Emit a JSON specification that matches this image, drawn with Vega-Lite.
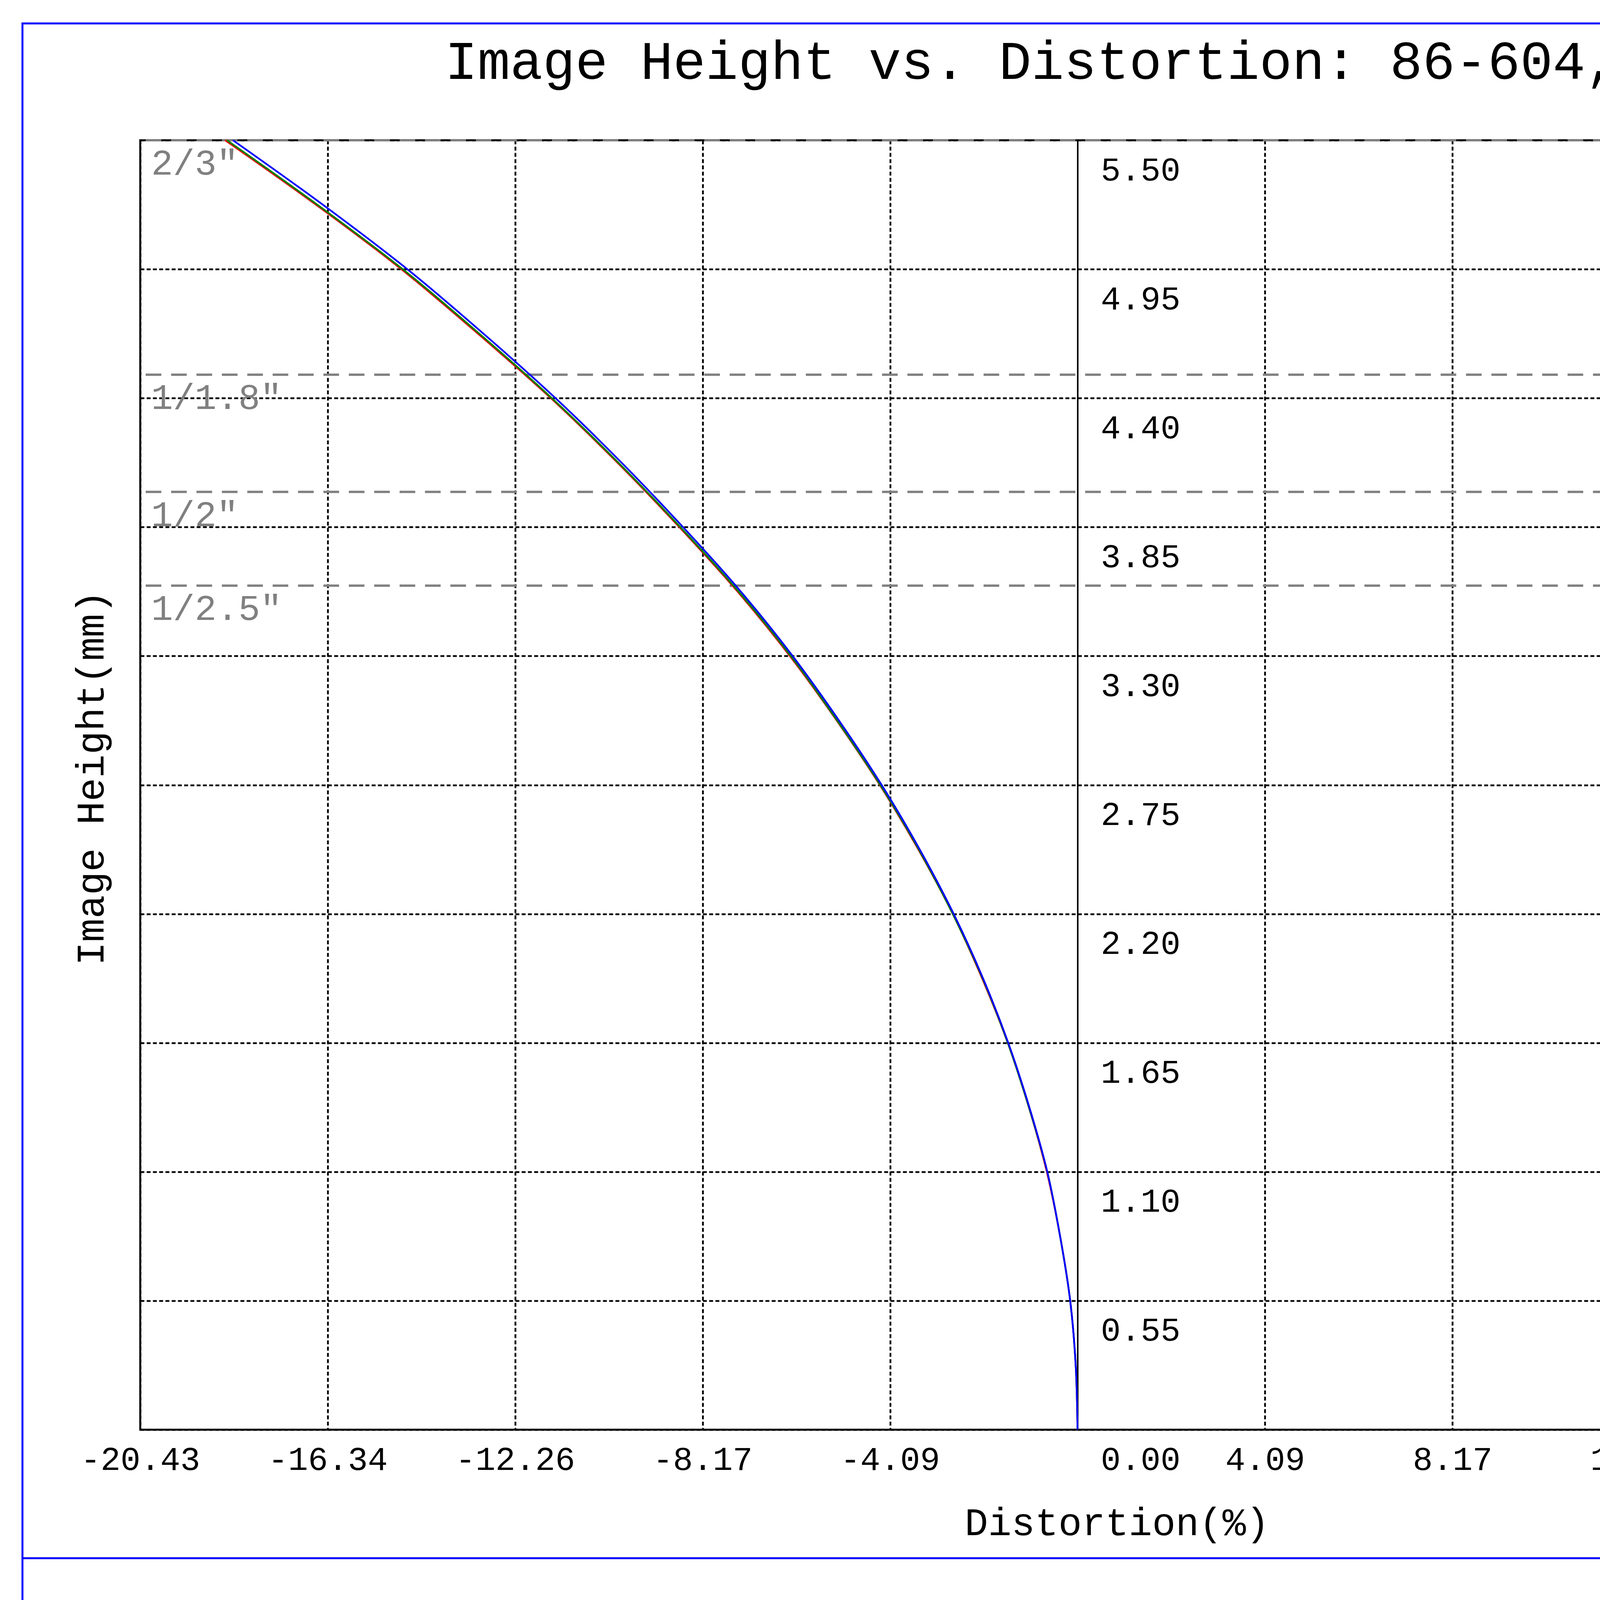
{
  "$schema": "https://vega.github.io/schema/vega-lite/v6.json",
  "width": 4799,
  "height": 3301,
  "autosize": {"type": "none"},
  "padding": {"left": 359, "top": 359, "right": 960, "bottom": 667},
  "background": "white",
  "title": {
    "text": "Image Height vs. Distortion: 86-604, 8.5",
    "font": "Liberation Mono",
    "fontSize": 139,
    "fontWeight": "normal",
    "color": "black",
    "anchor": "start",
    "frame": "group",
    "dx": 780,
    "offset": -283,
    "baseline": "alphabetic"
  },
  "datasets": {
    "curves": [
      {"wl": "656.27nm", "h": 0, "d": 0},
      {"wl": "656.27nm", "h": 0.275, "d": -0.04},
      {"wl": "656.27nm", "h": 0.55, "d": -0.16},
      {"wl": "656.27nm", "h": 0.825, "d": -0.38},
      {"wl": "656.27nm", "h": 1.1, "d": -0.67},
      {"wl": "656.27nm", "h": 1.375, "d": -1.06},
      {"wl": "656.27nm", "h": 1.65, "d": -1.52},
      {"wl": "656.27nm", "h": 1.925, "d": -2.08},
      {"wl": "656.27nm", "h": 2.2, "d": -2.72},
      {"wl": "656.27nm", "h": 2.475, "d": -3.47},
      {"wl": "656.27nm", "h": 2.75, "d": -4.31},
      {"wl": "656.27nm", "h": 3.025, "d": -5.25},
      {"wl": "656.27nm", "h": 3.3, "d": -6.27},
      {"wl": "656.27nm", "h": 3.575, "d": -7.41},
      {"wl": "656.27nm", "h": 3.85, "d": -8.68},
      {"wl": "656.27nm", "h": 4.125, "d": -10.03},
      {"wl": "656.27nm", "h": 4.4, "d": -11.48},
      {"wl": "656.27nm", "h": 4.675, "d": -13.07},
      {"wl": "656.27nm", "h": 4.95, "d": -14.74},
      {"wl": "656.27nm", "h": 5.225, "d": -16.6},
      {"wl": "656.27nm", "h": 5.5, "d": -18.58},
      {"wl": "587.56nm", "h": 0, "d": 0},
      {"wl": "587.56nm", "h": 0.275, "d": -0.04},
      {"wl": "587.56nm", "h": 0.55, "d": -0.16},
      {"wl": "587.56nm", "h": 0.825, "d": -0.38},
      {"wl": "587.56nm", "h": 1.1, "d": -0.66},
      {"wl": "587.56nm", "h": 1.375, "d": -1.06},
      {"wl": "587.56nm", "h": 1.65, "d": -1.52},
      {"wl": "587.56nm", "h": 1.925, "d": -2.07},
      {"wl": "587.56nm", "h": 2.2, "d": -2.72},
      {"wl": "587.56nm", "h": 2.475, "d": -3.46},
      {"wl": "587.56nm", "h": 2.75, "d": -4.3},
      {"wl": "587.56nm", "h": 3.025, "d": -5.24},
      {"wl": "587.56nm", "h": 3.3, "d": -6.25},
      {"wl": "587.56nm", "h": 3.575, "d": -7.39},
      {"wl": "587.56nm", "h": 3.85, "d": -8.66},
      {"wl": "587.56nm", "h": 4.125, "d": -10.01},
      {"wl": "587.56nm", "h": 4.4, "d": -11.46},
      {"wl": "587.56nm", "h": 4.675, "d": -13.04},
      {"wl": "587.56nm", "h": 4.95, "d": -14.71},
      {"wl": "587.56nm", "h": 5.225, "d": -16.57},
      {"wl": "587.56nm", "h": 5.5, "d": -18.54},
      {"wl": "486.13nm", "h": 0, "d": 0},
      {"wl": "486.13nm", "h": 0.275, "d": -0.04},
      {"wl": "486.13nm", "h": 0.55, "d": -0.16},
      {"wl": "486.13nm", "h": 0.825, "d": -0.38},
      {"wl": "486.13nm", "h": 1.1, "d": -0.66},
      {"wl": "486.13nm", "h": 1.375, "d": -1.05},
      {"wl": "486.13nm", "h": 1.65, "d": -1.51},
      {"wl": "486.13nm", "h": 1.925, "d": -2.06},
      {"wl": "486.13nm", "h": 2.2, "d": -2.7},
      {"wl": "486.13nm", "h": 2.475, "d": -3.44},
      {"wl": "486.13nm", "h": 2.75, "d": -4.27},
      {"wl": "486.13nm", "h": 3.025, "d": -5.2},
      {"wl": "486.13nm", "h": 3.3, "d": -6.21},
      {"wl": "486.13nm", "h": 3.575, "d": -7.34},
      {"wl": "486.13nm", "h": 3.85, "d": -8.6},
      {"wl": "486.13nm", "h": 4.125, "d": -9.94},
      {"wl": "486.13nm", "h": 4.4, "d": -11.38},
      {"wl": "486.13nm", "h": 4.675, "d": -12.95},
      {"wl": "486.13nm", "h": 4.95, "d": -14.61},
      {"wl": "486.13nm", "h": 5.225, "d": -16.45},
      {"wl": "486.13nm", "h": 5.5, "d": -18.41}
    ],
    "sensors": [
      {"sensor": "2/3\"", "h": 5.5},
      {"sensor": "1/1.8\"", "h": 4.5},
      {"sensor": "1/2\"", "h": 4.0},
      {"sensor": "1/2.5\"", "h": 3.6}
    ]
  },
  "layer": [
    {
      "data": {"values": [{}]},
      "mark": {"type": "rect", "filled": false, "stroke": "#0000ff", "strokeWidth": 5, "clip": false},
      "encoding": {
        "x": {"datum": -22.997, "type": "quantitative", "scale": {"domain": [-20.43, 20.43], "nice": false, "zero": false}},
        "x2": {"datum": 28.093},
        "y": {"datum": 5.998, "type": "quantitative", "scale": {"domain": [0, 5.5], "nice": false, "zero": false}},
        "y2": {"datum": -0.998}
      }
    },
    {
      "data": {"values": [{}]},
      "mark": {"type": "rule", "stroke": "#0000ff", "strokeWidth": 5, "clip": false},
      "encoding": {
        "x": {"datum": -22.997, "type": "quantitative"},
        "x2": {"datum": 28.093},
        "y": {"datum": -0.548, "type": "quantitative"}
      }
    },
    {
      "data": {"values": [{}]},
      "mark": {"type": "rule", "stroke": "black", "strokeWidth": 8, "clip": false},
      "encoding": {
        "x": {"datum": -24, "type": "quantitative"},
        "x2": {"datum": 32},
        "y": {"datum": -1.1055, "type": "quantitative"}
      }
    },
    {
      "data": {"values": [{"note": "Working Distance: Infinity"}]},
      "mark": {"type": "text", "align": "left", "baseline": "alphabetic", "font": "Liberation Mono", "fontSize": 95, "color": "black", "clip": false},
      "encoding": {
        "x": {"datum": -21.68, "type": "quantitative"},
        "y": {"datum": -0.88, "type": "quantitative"},
        "text": {"field": "note"}
      }
    },
    {
      "data": {"name": "sensors"},
      "mark": {"type": "rule", "stroke": "#808080", "strokeWidth": 6, "strokeDash": [40, 25]},
      "encoding": {
        "y": {"field": "h", "type": "quantitative"}
      }
    },
    {
      "data": {"name": "sensors"},
      "mark": {"type": "text", "align": "left", "baseline": "alphabetic", "dx": 28, "dy": 88, "font": "Liberation Mono", "fontSize": 93, "color": "#808080"},
      "encoding": {
        "x": {"datum": -20.43, "type": "quantitative"},
        "y": {"field": "h", "type": "quantitative"},
        "text": {"field": "sensor"}
      }
    },
    {
      "data": {"name": "curves"},
      "mark": {"type": "line", "strokeWidth": 4.5, "interpolate": "catmull-rom"},
      "encoding": {
        "x": {
          "field": "d",
          "type": "quantitative",
          "scale": {"domain": [-20.43, 20.43], "nice": false, "zero": false},
          "axis": {
            "title": "Distortion(%)",
            "values": [-20.43, -16.344, -12.258, -8.172, -4.086, 4.086, 8.172, 12.258, 16.344, 20.43],
            "format": ".2f",
            "labelExpr": "replace(datum.label, '\u2212', '-')",
            "domain": false,
            "ticks": false,
            "tickSize": 0,
            "labelBaseline": "alphabetic",
            "labelPadding": 102,
            "labelFlush": false,
            "labelOverlap": false,
            "titleX": 2500,
            "titleY": 269,
            "titleAlign": "center",
            "titleBaseline": "alphabetic"
          }
        },
        "y": {
          "field": "h",
          "type": "quantitative",
          "scale": {"domain": [0, 5.5], "nice": false, "zero": false},
          "axis": {
            "title": "Image Height(mm)",
            "values": [0, 0.55, 1.1, 1.65, 2.2, 2.75, 3.3, 3.85, 4.4, 4.95, 5.5],
            "format": ".2f",
            "offset": -2399.5,
            "domain": true,
            "domainColor": "black",
            "domainWidth": 4,
            "ticks": false,
            "tickSize": 0,
            "labelAlign": "left",
            "labelBaseline": "alphabetic",
            "labelPadding": -59,
            "labelOffset": 102,
            "labelFlush": false,
            "labelOverlap": false,
            "titleX": -2524,
            "titleY": 1632,
            "titleAngle": 270,
            "titleAlign": "center",
            "titleBaseline": "middle"
          }
        },
        "color": {
          "field": "wl",
          "type": "nominal",
          "scale": {"domain": ["656.27nm", "587.56nm", "486.13nm"], "range": ["#ff0000", "#008000", "#0000ff"]},
          "legend": {
            "title": "Wavelengths",
            "orient": "none",
            "legendX": 4938,
            "legendY": 837,
            "padding": 0,
            "symbolType": "stroke",
            "symbolSize": 8836,
            "symbolStrokeWidth": 5,
            "rowPadding": 86,
            "titlePadding": 76,
            "labelOffset": 36
          }
        },
        "order": {"field": "h", "type": "quantitative"}
      }
    }
  ],
  "config": {
    "view": {"stroke": "black", "strokeWidth": 5},
    "font": "Liberation Mono",
    "axis": {
      "labelFont": "Liberation Mono",
      "labelFontSize": 85,
      "labelColor": "black",
      "labelLimit": 1000,
      "titleFont": "Liberation Mono",
      "titleFontSize": 100,
      "titleFontWeight": "normal",
      "titleColor": "black",
      "grid": true,
      "gridColor": "black",
      "gridDash": [10, 6],
      "gridWidth": 4.5,
      "gridOpacity": 1
    },
    "legend": {
      "titleFont": "Liberation Mono",
      "titleFontSize": 85,
      "titleFontWeight": "normal",
      "titleColor": "black",
      "titleLimit": 1000,
      "labelFont": "Liberation Mono",
      "labelFontSize": 85,
      "labelColor": "black",
      "labelLimit": 1000
    }
  }
}
